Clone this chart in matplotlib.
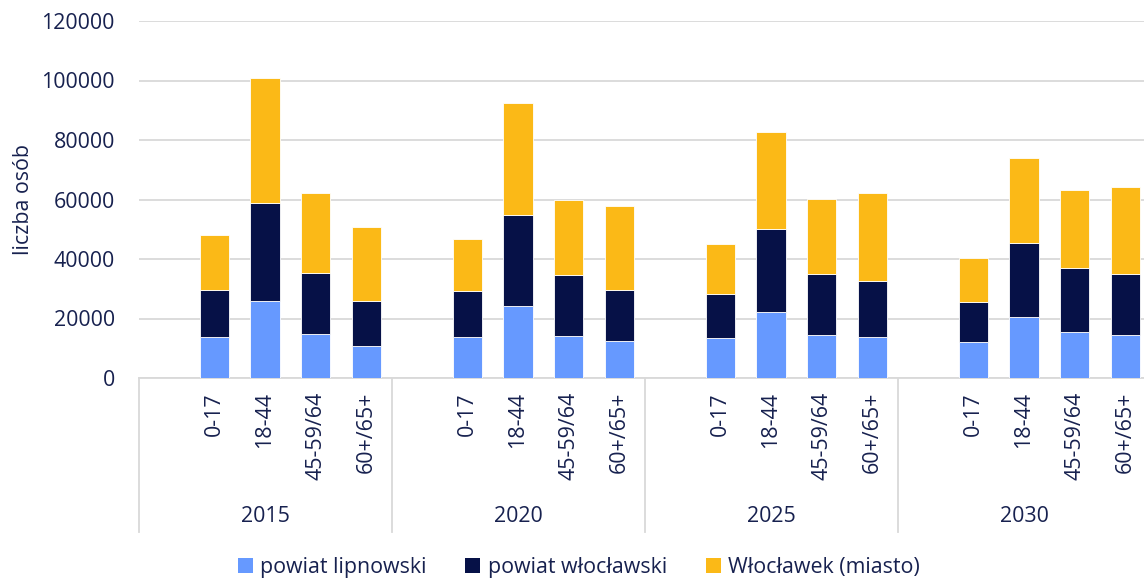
import matplotlib
matplotlib.use('Agg')
import matplotlib.pyplot as plt
import numpy as np
from matplotlib.patches import Patch

plt.rcParams['font.family'] = ['Open Sans', 'DejaVu Sans']
TXT = '#17214F'
FS = 15.4

# ---- data (liczba osób)
years = ['2015', '2020', '2025', '2030']
ages = ['0-17', '18-44', '45-59/64', '60+/65+']
series = ['powiat lipnowski', 'powiat włocławski', 'Włocławek (miasto)']
colors = ['#6699FF', '#061147', '#FBB917']

lipnowski = [13900, 26000, 14800, 10800,
             13700, 24300, 14200, 12400,
             13500, 22300, 14500, 13800,
             12200, 20500, 15600, 14600]
wloclawski = [15700, 32800, 20600, 15000,
              15400, 30600, 20400, 17100,
              14800, 27800, 20500, 18800,
              13400, 25000, 21300, 20200]
wloclawek = [18300, 42100, 26700, 25000,
             17500, 37600, 25100, 28400,
             16600, 32700, 25300, 29700,
             14900, 28300, 26300, 29300]

# ---- positions: 5 slots per year, first slot empty
xs = np.array([g * 5 + 1 + j for g in range(len(years)) for j in range(len(ages))])

fig = plt.figure(figsize=(11.44, 5.78), dpi=100)
ax = fig.add_axes([138.5 / 1144, 1 - 378 / 578, 1012 / 1144, 357 / 578])

bottom = np.zeros(len(xs))
for vals, col, name in zip([lipnowski, wloclawski, wloclawek], colors, series):
    ax.bar(xs, vals, width=0.58, bottom=bottom, color=col, edgecolor='white',
           linewidth=0.6, label=name, zorder=3)
    bottom += np.array(vals)

ax.set_xlim(-0.5, 19.5)
ax.set_ylim(0, 120000)
ax.set_yticks(np.arange(0, 120001, 20000))
ax.yaxis.grid(True, color='#D9D9D9', linewidth=1.3, zorder=0)
ax.set_axisbelow(True)
for s in ['top', 'right', 'left']:
    ax.spines[s].set_visible(False)
ax.spines['bottom'].set_color('#D9D9D9')
ax.spines['bottom'].set_linewidth(1.3)

ax.tick_params(axis='y', length=0, pad=17, labelsize=FS, labelcolor=TXT)
ax.set_xticks(xs)
ax.set_xticklabels(ages * len(years), rotation=90, va='top', ha='center')
ax.tick_params(axis='x', length=0, pad=10, labelsize=FS, labelcolor=TXT)

ax.set_ylabel('liczba osób', fontsize=FS, color=TXT, labelpad=5)

# year labels and separators
trans = ax.get_xaxis_transform()
for g, yr in enumerate(years):
    ax.text(g * 5 + 2, -0.389, yr, transform=trans, ha='center', va='center',
            fontsize=FS, color=TXT)
for g in range(len(years) + 1):
    ax.plot([g * 5 - 0.5, g * 5 - 0.5], [0, -0.431], transform=trans,
            color='#D9D9D9', linewidth=1.3, clip_on=False)

handles = [Patch(facecolor=c, edgecolor='none') for c in colors]
fig.legend(handles, series, loc='center', bbox_to_anchor=(0.506, 1 - 567 / 578),
           ncol=3, frameon=False, fontsize=FS, labelcolor=TXT,
           handlelength=0.7, handleheight=0.7, handletextpad=0.35,
           columnspacing=1.8)

fig.savefig('out.png', dpi=100)
